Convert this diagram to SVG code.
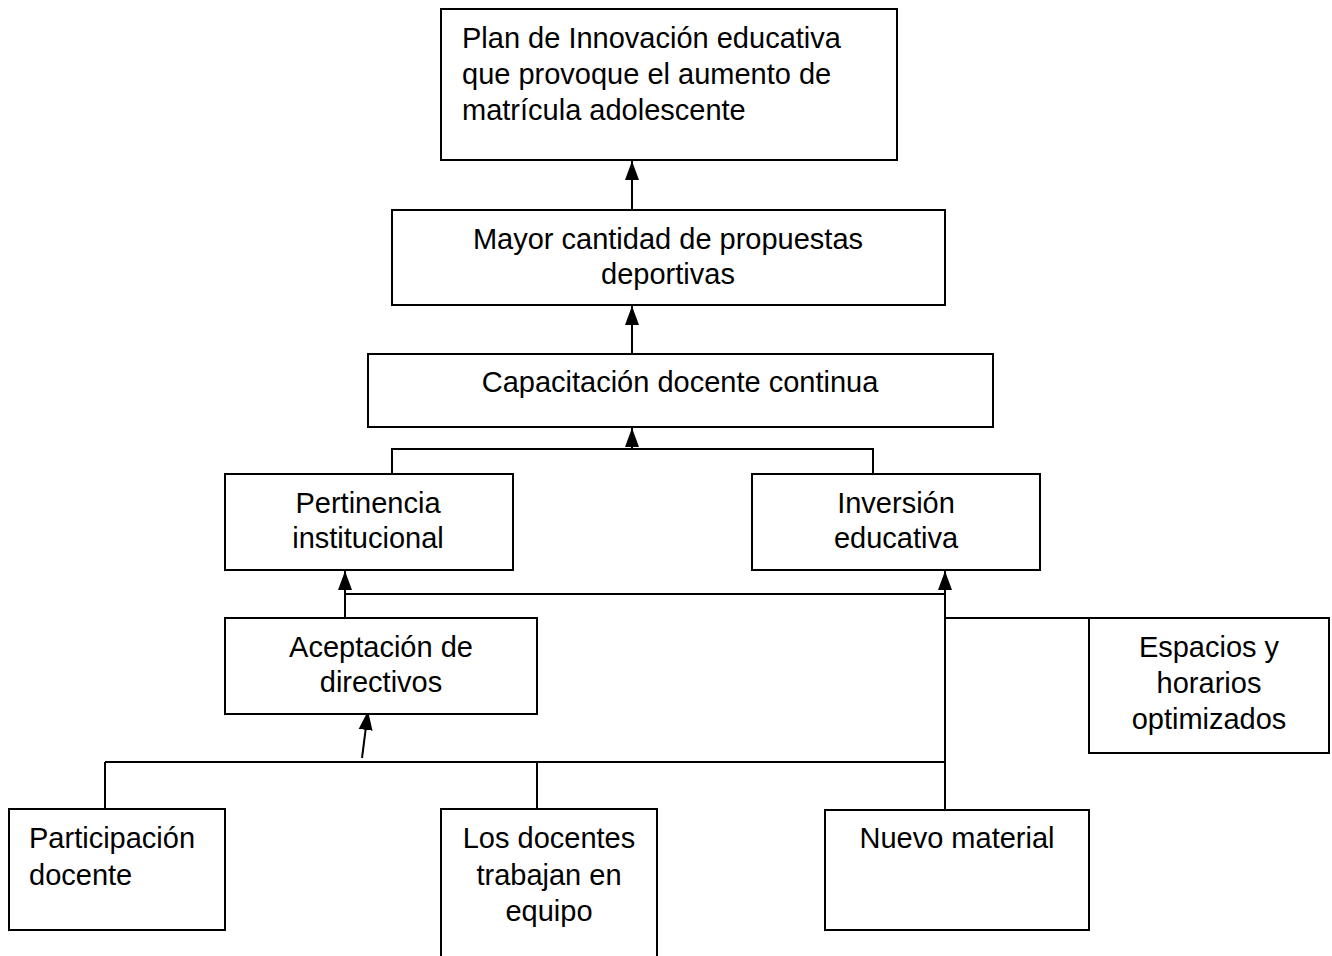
<svg xmlns="http://www.w3.org/2000/svg" width="1332" height="956" viewBox="0 0 1332 956">
<style>
.box{fill:#fff;stroke:#000;stroke-width:2}
.ln{fill:none;stroke:#000;stroke-width:2}
text{font-family:"Liberation Sans",Arial,sans-serif;font-size:29px;fill:#000}
.c{text-anchor:middle}
</style>
<defs>
<marker id="ah" markerUnits="userSpaceOnUse" markerWidth="16" markerHeight="20" viewBox="0 0 16 20" refX="8" refY="1" orient="auto-start-reverse">
<path d="M8,1 L15,19 L1,19 Z" fill="#000" transform="rotate(90 8 10)"/>
</marker>
<marker id="arr" markerUnits="userSpaceOnUse" markerWidth="20" markerHeight="16" viewBox="0 0 20 16" refX="19" refY="8" orient="auto">
<path d="M0,1 L19,8 L0,15 Z" fill="#000"/>
</marker>
</defs>
<rect width="1332" height="956" fill="#fff"/>
<g id="connectors">
<line class="ln" x1="632" y1="210" x2="632" y2="161" marker-end="url(#arr)"/>
<line class="ln" x1="632" y1="354" x2="632" y2="306" marker-end="url(#arr)"/>
<polyline class="ln" points="392,474 392,449 873,449 873,474"/>
<line class="ln" x1="632" y1="449" x2="632" y2="428" marker-end="url(#arr)"/>
<line class="ln" x1="345" y1="618" x2="345" y2="571" marker-end="url(#arr)"/>
<line class="ln" x1="345" y1="594" x2="945" y2="594"/>
<line class="ln" x1="945" y1="810" x2="945" y2="571" marker-end="url(#arr)"/>
<line class="ln" x1="945" y1="618" x2="1089" y2="618"/>
<line class="ln" x1="105" y1="762" x2="945" y2="762"/>
<line class="ln" x1="105" y1="762" x2="105" y2="809"/>
<line class="ln" x1="537" y1="762" x2="537" y2="809"/>
<line class="ln" x1="362" y1="758" x2="368" y2="711" marker-end="url(#arr)"/>
</g>
<g id="plan">
<rect class="box" x="441" y="9" width="456" height="151"/>
<text x="462" y="48">Plan de Innovación educativa</text>
<text x="462" y="84">que provoque el aumento de</text>
<text x="462" y="120">matrícula adolescente</text>
</g>
<g id="mayor">
<rect class="box" x="392" y="210" width="553" height="95"/>
<text class="c" x="668" y="249">Mayor cantidad de propuestas</text>
<text class="c" x="668" y="284">deportivas</text>
</g>
<g id="capacitacion">
<rect class="box" x="368" y="354" width="625" height="73"/>
<text class="c" x="680" y="392">Capacitación docente continua</text>
</g>
<g id="pertinencia">
<rect class="box" x="225" y="474" width="288" height="96"/>
<text class="c" x="368" y="513">Pertinencia</text>
<text class="c" x="368" y="548">institucional</text>
</g>
<g id="inversion">
<rect class="box" x="752" y="474" width="288" height="96"/>
<text class="c" x="896" y="513">Inversión</text>
<text class="c" x="896" y="548">educativa</text>
</g>
<g id="aceptacion">
<rect class="box" x="225" y="618" width="312" height="96"/>
<text class="c" x="381" y="657">Aceptación de</text>
<text class="c" x="381" y="692">directivos</text>
</g>
<g id="espacios">
<rect class="box" x="1089" y="618" width="240" height="135"/>
<text class="c" x="1209" y="657">Espacios y</text>
<text class="c" x="1209" y="693">horarios</text>
<text class="c" x="1209" y="729">optimizados</text>
</g>
<g id="participacion">
<rect class="box" x="9" y="809" width="216" height="121"/>
<text x="29" y="848">Participación</text>
<text x="29" y="885">docente</text>
</g>
<g id="docentes">
<path class="ln" d="M441,958 V809 H657 V958"/>
<text class="c" x="549" y="848">Los docentes</text>
<text class="c" x="549" y="885">trabajan en</text>
<text class="c" x="549" y="921">equipo</text>
</g>
<g id="material">
<rect class="box" x="825" y="810" width="264" height="120"/>
<text class="c" x="957" y="848">Nuevo material</text>
</g>
</svg>
